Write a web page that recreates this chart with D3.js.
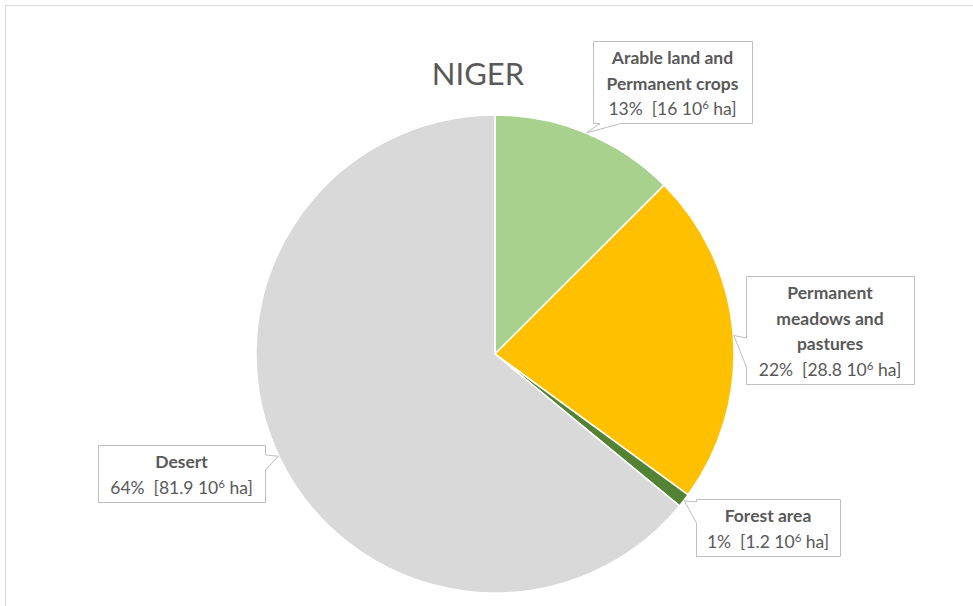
<!DOCTYPE html>
<html><head><meta charset="utf-8">
<script src="https://cdn.jsdelivr.net/npm/d3@7"></script>
<style>
html,body{margin:0;padding:0;background:#fff;}
svg{display:block;font-family:Lato,"Open Sans",sans-serif;}
</style></head>
<body>
<svg id="chart" width="973" height="606"></svg>
<script>
// ---- data ----
const title = "NIGER";
const categories = ["Arable land and Permanent crops", "Permanent meadows and pastures", "Forest area", "Desert"];
const nameLines = [["Arable land and", "Permanent crops"], ["Permanent", "meadows and", "pastures"], ["Forest area"], ["Desert"]];
const values = [16, 28.8, 1.2, 81.9];           // 10^6 ha
const valueLabels = ["16", "28.8", "1.2", "81.9"];
const percentLabels = ["13%", "22%", "1%", "64%"];
const colors = ["#a9d18e", "#ffc000", "#548235", "#d9d9d9"];

// ---- layout ----
const W = 973, H = 606;
const cx = 495, cy = 354, R = 239;
const boxes = [ // label box layout: x,y,w and side where the pointer attaches, plus base span
  {x: 593, y: 41, w: 159, side: "bottom", b0: 600, b1: 621},
  {x: 746, y: 276, w: 168, side: "left", b0: 338, b1: 367},
  {x: 696, y: 499, w: 144, side: "left", b0: 502, b1: 523},
  {x: 98, y: 445, w: 167, side: "right", b0: 455, b1: 470}
];
const lineH = 25.5;

const svg = d3.select("#chart");
svg.append("rect").attr("x", 5.5).attr("y", 5.5).attr("width", W + 10).attr("height", H + 10)
  .attr("fill", "#fff").attr("stroke", "#d9d9d9").attr("stroke-width", 1);

svg.append("text").attr("x", 478).attr("y", 85).attr("text-anchor", "middle")
  .attr("font-size", 31).attr("fill", "#595959").text(title);

const pie = d3.pie().sort(null).value(d => d);
const arcs = pie(values);
const arc = d3.arc().innerRadius(0).outerRadius(R);

const g = svg.append("g").attr("transform", `translate(${cx},${cy})`);
g.selectAll("path").data(arcs).join("path")
  .attr("d", arc)
  .attr("fill", (d, i) => colors[i])
  .attr("stroke", "#fff").attr("stroke-width", 1.5).attr("stroke-linejoin", "round");

// callouts
arcs.forEach((a, i) => {
  const b = boxes[i];
  const mid = (a.startAngle + a.endAngle) / 2;
  const tip = [cx + (R + 0.5) * Math.sin(mid), cy - (R + 0.5) * Math.cos(mid)];
  const n = nameLines[i].length + 1;
  const h = Math.round(n * lineH + 5.5);
  const x0 = b.x + 0.5, y0 = b.y + 0.5, x1 = b.x + b.w + 0.5, y1 = b.y + h + 0.5;
  let pts = [[x0, y0], [x1, y0]];
  if (b.side === "right") pts.push([x1, b.b0], tip, [x1, b.b1]);
  pts.push([x1, y1]);
  if (b.side === "bottom") pts.push([b.b1, y1], tip, [b.b0, y1]);
  pts.push([x0, y1]);
  if (b.side === "left") pts.push([x0, b.b1], tip, [x0, b.b0]);
  svg.append("path").attr("d", "M" + pts.map(p => p.join(",")).join("L") + "Z")
    .attr("fill", "#fff").attr("stroke", "#bfbfbf").attr("stroke-width", 1);

  const t = svg.append("text").attr("text-anchor", "middle").attr("font-size", 17.5).attr("fill", "#595959");
  const tx = b.x + b.w / 2;
  nameLines[i].forEach((ln, k) => {
    t.append("tspan").attr("x", tx).attr("y", b.y + 23 + k * lineH).attr("font-weight", "bold").text(ln);
  });
  const last = t.append("tspan").attr("x", tx).attr("y", b.y + 23 + (n - 1) * lineH);
  last.append("tspan").text(`${percentLabels[i]}\u00a0 [${valueLabels[i]} 10`);
  last.append("tspan").attr("font-size", 11.5).attr("dy", -6).text("6");
  last.append("tspan").attr("dy", 6).text(" ha]");
});
</script>
</body></html>
